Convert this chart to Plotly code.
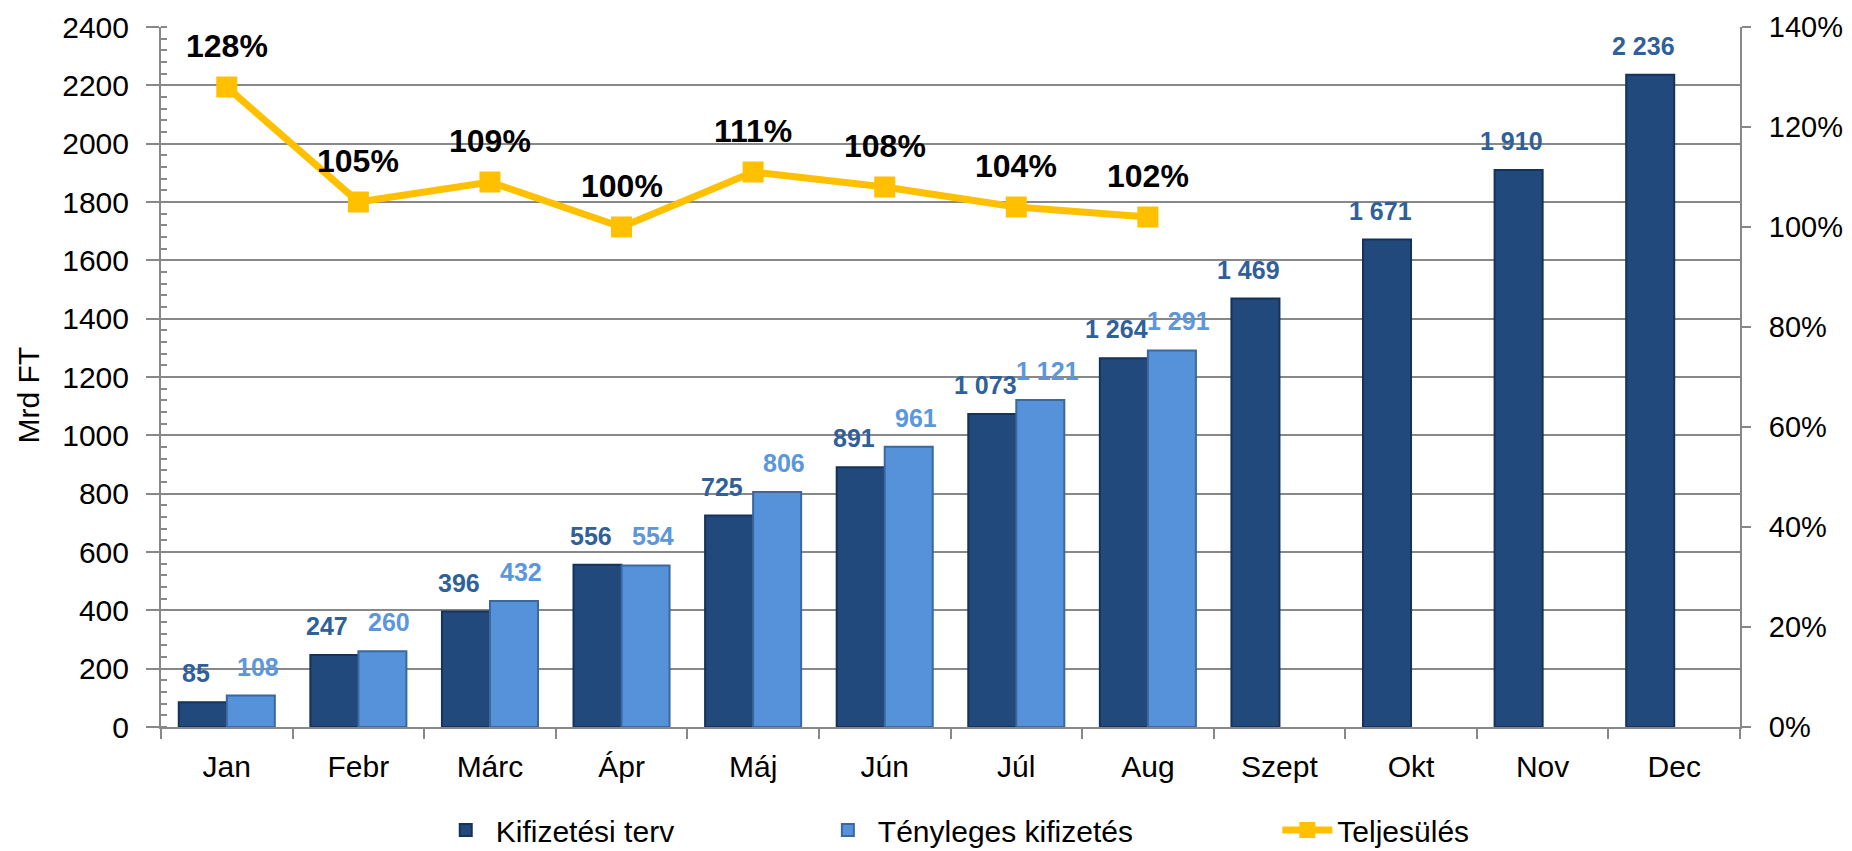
import plotly.graph_objects as go

# havi adatok
honapok = ["Jan", "Febr", "Márc", "Ápr", "Máj", "Jún", "Júl", "Aug", "Szept", "Okt", "Nov", "Dec"]
terv = [85, 247, 396, 556, 725, 891, 1073, 1264, 1469, 1671, 1910, 2236]
teny = [108, 260, 432, 554, 806, 961, 1121, 1291, None, None, None, None]
teljesules = [128, 105, 109, 100, 111, 108, 104, 102, None, None, None, None]

FONT = "Liberation Sans, Arial, Helvetica, sans-serif"
GRID = "#888888"
SOTET = "#22497C"
VILAGOS = "#5592DA"

# a bongeszo 8px-es body margoja miatt kisebb a figura
W, H = 1844, 843


def fmt(v):
    # ezres elvalaszto szokozzel
    return "{:,}".format(v).replace(",", " ")


fig = go.Figure()

fig.add_trace(go.Bar(
    x=honapok, y=terv, name="Kifizetési terv",
    marker=dict(color=SOTET, line=dict(color="#16325A", width=2)),
    legend="legend", showlegend=True,
))
fig.add_trace(go.Bar(
    x=honapok, y=teny, name="Tényleges kifizetés",
    marker=dict(color=VILAGOS, line=dict(color="#3A689F", width=2)),
    legend="legend2", showlegend=True,
))
fig.add_trace(go.Scatter(
    x=honapok, y=teljesules, name="Teljesülés", yaxis="y2",
    mode="lines+markers",
    line=dict(color="#FFC000", width=7),
    marker=dict(symbol="square", size=21, color="#FFC000"),
    cliponaxis=False,
    legend="legend3", showlegend=True,
))

# oszlopfeliratok (a csoporton beluli bal / jobb oszlop folott)
for h, v in zip(honapok, terv):
    fig.add_annotation(x=h, y=v, text=fmt(v), showarrow=False, xshift=-31, yshift=29,
                       font=dict(family=FONT, size=25, color="#30609A", weight="bold"))
for h, v in zip(honapok, teny):
    if v is None:
        continue
    fig.add_annotation(x=h, y=v, text=fmt(v), showarrow=False, xshift=31, yshift=29,
                       font=dict(family=FONT, size=25, color="#5C96DB", weight="bold"))

# szazalekos feliratok a pontok folott
for h, v in zip(honapok, teljesules):
    if v is None:
        continue
    fig.add_annotation(x=h, y=v, yref="y2", text="%d%%" % v, showarrow=False, yshift=41,
                       font=dict(family=FONT, size=32, color="black", weight="bold"))

# tengelycim (kicsit a kozep alatt, mint az eredetin)
fig.add_annotation(xref="paper", yref="paper", x=-0.0836, y=0.475, text="Mrd FT",
                   textangle=-90, showarrow=False, xanchor="center", yanchor="middle",
                   font=dict(family=FONT, size=30, color="black"))

leg = dict(orientation="h", y=-0.147, yanchor="middle", xanchor="left",
           font=dict(family=FONT, size=30, color="black"), bgcolor="rgba(0,0,0,0)",
           itemwidth=50)

fig.update_layout(
    width=W, height=H,
    margin=dict(l=153, r=112, t=19, b=124, autoexpand=False),
    plot_bgcolor="white", paper_bgcolor="white",
    barmode="group", bargap=0.27, bargroupgap=0,
    font=dict(family=FONT, size=30, color="black"),
    showlegend=True,
    legend=dict(leg, x=0.174),
    legend2=dict(leg, x=0.416),
    legend3=dict(leg, x=0.707),
    xaxis=dict(
        range=[-0.5, len(honapok) - 0.5],
        showline=True, linecolor=GRID, linewidth=2,
        ticks="outside", tickcolor=GRID, ticklen=10, tickwidth=2,
        tickson="boundaries", ticklabelstandoff=12,
        tickfont=dict(family=FONT, size=30),
    ),
    yaxis=dict(
        range=[0, 2400], dtick=200, showgrid=True, gridcolor=GRID, gridwidth=2,
        showline=True, linecolor=GRID, linewidth=2,
        ticks="outside", tickcolor=GRID, ticklen=13, tickwidth=2,
        minor=dict(dtick=40, ticks="inside", ticklen=6, tickcolor=GRID, tickwidth=2, showgrid=False),
        ticklabelstandoff=11,
        tickfont=dict(family=FONT, size=30),
        zeroline=False,
    ),
    yaxis2=dict(
        range=[0, 140], dtick=20, overlaying="y", side="right", showgrid=False,
        showline=True, linecolor=GRID, linewidth=2,
        ticks="outside", tickcolor=GRID, ticklen=9, tickwidth=2,
        ticksuffix="%", ticklabelstandoff=12, zeroline=False,
        tickfont=dict(family=FONT, size=29),
    ),
)

fig.write_html("out.html")
